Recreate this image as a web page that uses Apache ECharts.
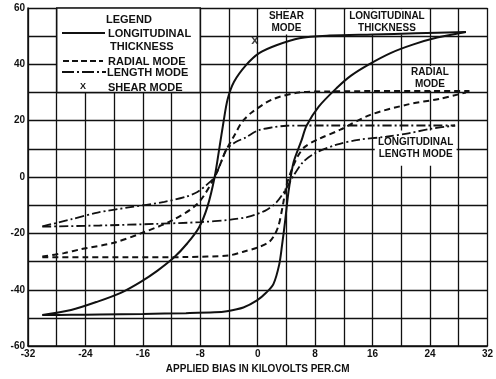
<!DOCTYPE html>
<html><head><meta charset="utf-8">
<script src="https://cdn.jsdelivr.net/npm/echarts@6/dist/echarts.min.js"></script>
<style>html,body{margin:0;padding:0;background:#fff}#c{width:496px;height:379px}</style>
</head><body><div id="c"></div>
<script>
// Tick labels
const xTickLabels = [-32,-24,-16,-8,0,8,16,24,32];
const yTickLabels = [-60,-40,-20,0,20,40,60];

// Longitudinal thickness (solid), two branches
const thicknessRise = [[-30,-49],[-26,-48.9],[-22,-48.8],[-16,-48.6],[-10,-48.3],[-6,-48],[-4.3,-47.6],[-2,-46.3],[-0.1,-43.8],[1.2,-41],[2.2,-37.9],[3,-31],[3.4,-24],[3.8,-16],[4.3,-5],[5,5.3],[6.1,13],[6.8,18.2],[8.5,25],[11,31.6],[13,36],[15.5,40],[18.5,44],[21.6,47],[25,49.5],[29,51.5]];
const thicknessFall = [[-30,-49],[-26,-47.2],[-22.3,-44.2],[-19,-41],[-16.3,-37.2],[-14,-33.3],[-11.6,-28.4],[-9.8,-23.5],[-8.2,-18],[-7,-10.5],[-6,0],[-5.3,11],[-4.8,19],[-4.2,27.5],[-3.3,33.8],[-1.6,39.8],[0.2,44],[2.6,46.8],[5.8,49.3],[10,50.2],[16,50.6],[22,51],[29,51.5]];

// Radial mode (dashed)
const radialRise = [[-30,-28.5],[-24,-28.5],[-18,-28.5],[-10,-28.4],[-4,-27.8],[-2,-26.5],[0,-25],[1.7,-22.8],[2.8,-18],[3.5,-10],[4,-3],[4.8,3],[5.6,7.5],[6.6,10.8],[8.5,13.5],[11.5,16.8],[15.6,22],[20.8,25.7],[25.4,27.8],[29,30]];
const radialFall = [[-30,-28.2],[-27,-27],[-24.6,-25.6],[-20,-23.3],[-16.3,-20],[-12,-15.5],[-8.4,-9.5],[-6,0],[-4.5,9],[-3.2,15],[-2.2,19.5],[-0.8,23],[2,27.5],[5.7,30],[10,30.4],[16,30.5],[24,30.5],[29.5,30.5]];

// Length mode (dash-dot)
const lengthRise = [[-30,-17.6],[-22,-17.2],[-14,-16.6],[-8,-16],[-4,-15.2],[-1.5,-14.2],[1,-12],[2.6,-9],[4,-4],[5,0.5],[6.3,5.3],[8,8.5],[11,11.5],[14,13.2],[17.9,14.3],[21,15.5],[23.8,17],[27.5,18.3]];
const lengthFall = [[-30,-17.5],[-26,-15],[-22.3,-12.6],[-18,-10.8],[-13,-8.8],[-10,-7],[-8.4,-5.3],[-7,-2.5],[-6,0],[-5,6],[-4.3,10],[-3,12.5],[-1.7,14],[0,16.5],[2,17.6],[4,18.2],[10,18.3],[20,18.3],[27.5,18.3]];

// Shear mode point
const shearMode = [[-0.4,48.5]];

const chart = echarts.init(document.getElementById('c'));
const ink = '#111';
const font = 'Liberation Sans';
const solid = {color: ink, width: 2, type: 'solid'};
const dashed = {color: ink, width: 2, type: [6,4]};
const dashDot = {color: ink, width: 1.8, type: [9,3,2,3]};
function curve(data, ls) {
  return {type:'line', data, smooth:0.3, showSymbol:false, lineStyle:ls, z:3, silent:true};
}
const boxLabel = {show:true, position:'inside', color:ink, fontFamily:font, fontWeight:'bold', fontSize:10, lineHeight:12};
const gfont = 'bold 11px "Liberation Sans"';
const option = {
  backgroundColor:'#fff',
  animation:false,
  grid:{left:28, right:6, top:8, bottom:28, show:false},
  xAxis:{type:'value', min:-32, max:32, interval:4,
    axisLine:{show:true, onZero:false, lineStyle:{color:ink, width:1.5}},
    axisTick:{show:false},
    splitLine:{show:true, lineStyle:{color:ink, width:1.3}},
    axisLabel:{margin:3, color:ink, fontFamily:font, fontWeight:'bold', fontSize:10,
      formatter:v => xTickLabels.includes(v) ? String(v) : ''},
    name:'APPLIED BIAS IN KILOVOLTS PER.CM', nameLocation:'middle', nameGap:13,
    nameTextStyle:{color:ink, fontFamily:font, fontWeight:'bold', fontSize:10}
  },
  yAxis:{type:'value', min:-60, max:60, interval:10,
    axisLine:{show:true, onZero:false, lineStyle:{color:ink, width:1.5}},
    axisTick:{show:false},
    splitLine:{show:true, lineStyle:{color:ink, width:1.3}},
    axisLabel:{margin:3, color:ink, fontFamily:font, fontWeight:'bold', fontSize:10,
      formatter:v => yTickLabels.includes(v) ? String(v) : ''}
  },
  series:[
    {type:'line', data:[], z:1, silent:true,
      markArea:{silent:true, label:boxLabel,
        itemStyle:{color:'#fff', borderWidth:0},
        data:[
          [{name:'SHEAR\nMODE', coord:[0.3,50.6]},{coord:[7.7,59.6]}],
          [{name:'LONGITUDINAL\nTHICKNESS', coord:[12.3,50.6]},{coord:[23.7,59.6]}],
          [{name:'RADIAL\nMODE', coord:[20.3,30.6]},{coord:[27.7,39.4]}],
          [{name:'LONGITUDINAL\nLENGTH MODE', coord:[16.3,4]},{coord:[27.7,16.5]}]
        ]}
    },
    {type:'line', data:[], z:1, silent:true,
      markArea:{silent:true, label:{show:false},
        itemStyle:{color:'#fff', borderColor:ink, borderWidth:1.5},
        data:[[{coord:[-28,30]},{coord:[-8,60]}]]}
    },
    curve(thicknessRise, solid),
    curve(thicknessFall, solid),
    curve(radialRise, dashed),
    curve(radialFall, dashed),
    curve(lengthRise, dashDot),
    curve(lengthFall, dashDot),
    {type:'scatter', data:shearMode, z:4, silent:true,
      symbol:'path://M0,0L2.5,0L5,3.2L7.5,0L10,0L6.4,5L10,10L7.5,10L5,6.8L2.5,10L0,10L3.6,5Z',
      symbolSize:7, itemStyle:{color:ink}}
  ],
  graphic:{elements:[
    {type:'text', z:100, left:106, top:14, style:{text:'LEGEND', fill:ink, font:gfont}},
    {type:'line', z:100, shape:{x1:62, y1:33, x2:105, y2:33}, style:{stroke:ink, lineWidth:2}},
    {type:'text', z:100, left:108, top:28, style:{text:'LONGITUDINAL', fill:ink, font:gfont}},
    {type:'text', z:100, left:110, top:41, style:{text:'THICKNESS', fill:ink, font:gfont}},
    {type:'line', z:100, shape:{x1:63, y1:61, x2:103, y2:61}, style:{stroke:ink, lineWidth:2, lineDash:[6,3]}},
    {type:'text', z:100, left:108, top:56, style:{text:'RADIAL MODE', fill:ink, font:gfont}},
    {type:'line', z:100, shape:{x1:62, y1:72, x2:106, y2:72}, style:{stroke:ink, lineWidth:2, lineDash:[12,3,2,3]}},
    {type:'text', z:100, left:107, top:67, style:{text:'LENGTH MODE', fill:ink, font:gfont}},
    {type:'text', z:100, left:80, top:82, style:{text:'X', fill:ink, font:'bold 9px "Liberation Sans"'}},
    {type:'text', z:100, left:108, top:82, style:{text:'SHEAR MODE', fill:ink, font:gfont}}
  ]}
};
chart.setOption(option);
</script></body></html>
